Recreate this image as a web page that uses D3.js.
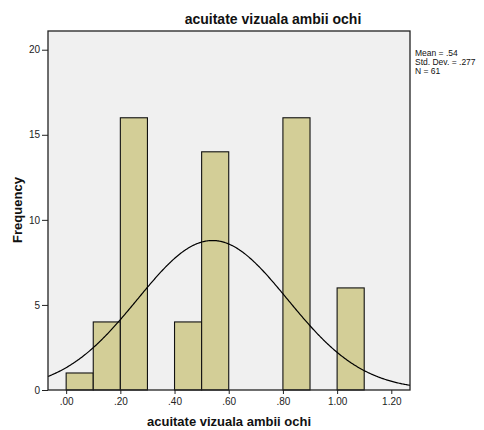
<!DOCTYPE html>
<html>
<head>
<meta charset="utf-8">
<script src="https://cdn.jsdelivr.net/npm/d3@7"></script>
<style>
  body { margin: 0; background: #fff; }
  svg { display: block; font-family: Arial, "Liberation Sans", sans-serif; }
</style>
</head>
<body>
<svg id="chart" width="484" height="430"></svg>
<script>
// Histogram of visual acuity (both eyes), bin width 0.1
const binStarts = [0.0, 0.1, 0.2, 0.4, 0.5, 0.8, 1.0];
const binCounts = [1, 4, 16, 4, 14, 16, 6];
const binWidth = 0.1;
const xTicks = [0, 0.2, 0.4, 0.6, 0.8, 1.0, 1.2];
const yTicks = [0, 5, 10, 15, 20];
const stats = { mean: 0.54, sd: 0.277, n: 61 };
const statLines = ["Mean = .54", "Std. Dev. = .277", "N = 61"];

const svg = d3.select("#chart");
const plot = { left: 48, right: 410, top: 31, bottom: 390 };

const x = d3.scaleLinear().domain([-0.067, 1.269]).range([plot.left, plot.right]);
const y = d3.scaleLinear().domain([0, 21.1]).range([plot.bottom, plot.top]);

// Plot background
svg.append("rect")
  .attr("x", plot.left).attr("y", plot.top)
  .attr("width", plot.right - plot.left).attr("height", plot.bottom - plot.top)
  .attr("fill", "#f0f0f0");

// Bars
svg.append("g").selectAll("rect")
  .data(binStarts.map((s, i) => ({ s, c: binCounts[i] })))
  .join("rect")
  .attr("x", d => x(d.s))
  .attr("y", d => y(d.c))
  .attr("width", d => x(d.s + binWidth) - x(d.s))
  .attr("height", d => y(0) - y(d.c))
  .attr("fill", "#d3ce97")
  .attr("stroke", "#111")
  .attr("stroke-width", 1.1);

// Normal curve scaled to counts
const scaleFactor = stats.n * binWidth / (stats.sd * Math.sqrt(2 * Math.PI));
const curvePts = d3.range(0, 401).map(i => {
  const v = x.domain()[0] + (x.domain()[1] - x.domain()[0]) * i / 400;
  const z = (v - stats.mean) / stats.sd;
  return [v, scaleFactor * Math.exp(-0.5 * z * z)];
});
svg.append("path")
  .datum(curvePts)
  .attr("fill", "none")
  .attr("stroke", "#000")
  .attr("stroke-width", 1.2)
  .attr("d", d3.line().x(d => x(d[0])).y(d => y(d[1])));

// Frame
svg.append("rect")
  .attr("x", plot.left).attr("y", plot.top)
  .attr("width", plot.right - plot.left).attr("height", plot.bottom - plot.top)
  .attr("fill", "none").attr("stroke", "#222").attr("stroke-width", 1.3);

// Axes
const fmtX = d => d3.format(".2f")(d).replace(/^0\./, ".");
const xAxis = svg.append("g")
  .attr("transform", `translate(0,${plot.bottom})`)
  .call(d3.axisBottom(x).tickValues(xTicks).tickFormat(fmtX).tickSize(4).tickPadding(4));
const yAxis = svg.append("g")
  .attr("transform", `translate(${plot.left},0)`)
  .call(d3.axisLeft(y).tickValues(yTicks).tickSize(6).tickPadding(2));
[xAxis, yAxis].forEach(g => {
  g.select(".domain").remove();
  g.selectAll("line").attr("stroke", "#222");
  g.selectAll("text").attr("font-size", 10).attr("fill", "#222")
    .attr("font-family", "Arial, 'Liberation Sans', sans-serif");
});

// Titles
svg.append("text")
  .attr("x", 273).attr("y", 24)
  .attr("text-anchor", "middle")
  .attr("font-size", 14).attr("font-weight", "bold").attr("fill", "#111")
  .text("acuitate vizuala ambii ochi");
svg.append("text")
  .attr("x", 229).attr("y", 426)
  .attr("text-anchor", "middle")
  .attr("font-size", 13).attr("font-weight", "bold").attr("fill", "#111")
  .text("acuitate vizuala ambii ochi");
svg.append("text")
  .attr("transform", "translate(22,210) rotate(-90)")
  .attr("text-anchor", "middle")
  .attr("font-size", 13).attr("font-weight", "bold").attr("fill", "#111")
  .text("Frequency");

// Summary statistics
svg.append("g").selectAll("text")
  .data(statLines)
  .join("text")
  .attr("x", 415)
  .attr("y", (d, i) => 56 + i * 9)
  .attr("font-size", 8.5).attr("fill", "#111")
  .text(d => d);
</script>
</body>
</html>
